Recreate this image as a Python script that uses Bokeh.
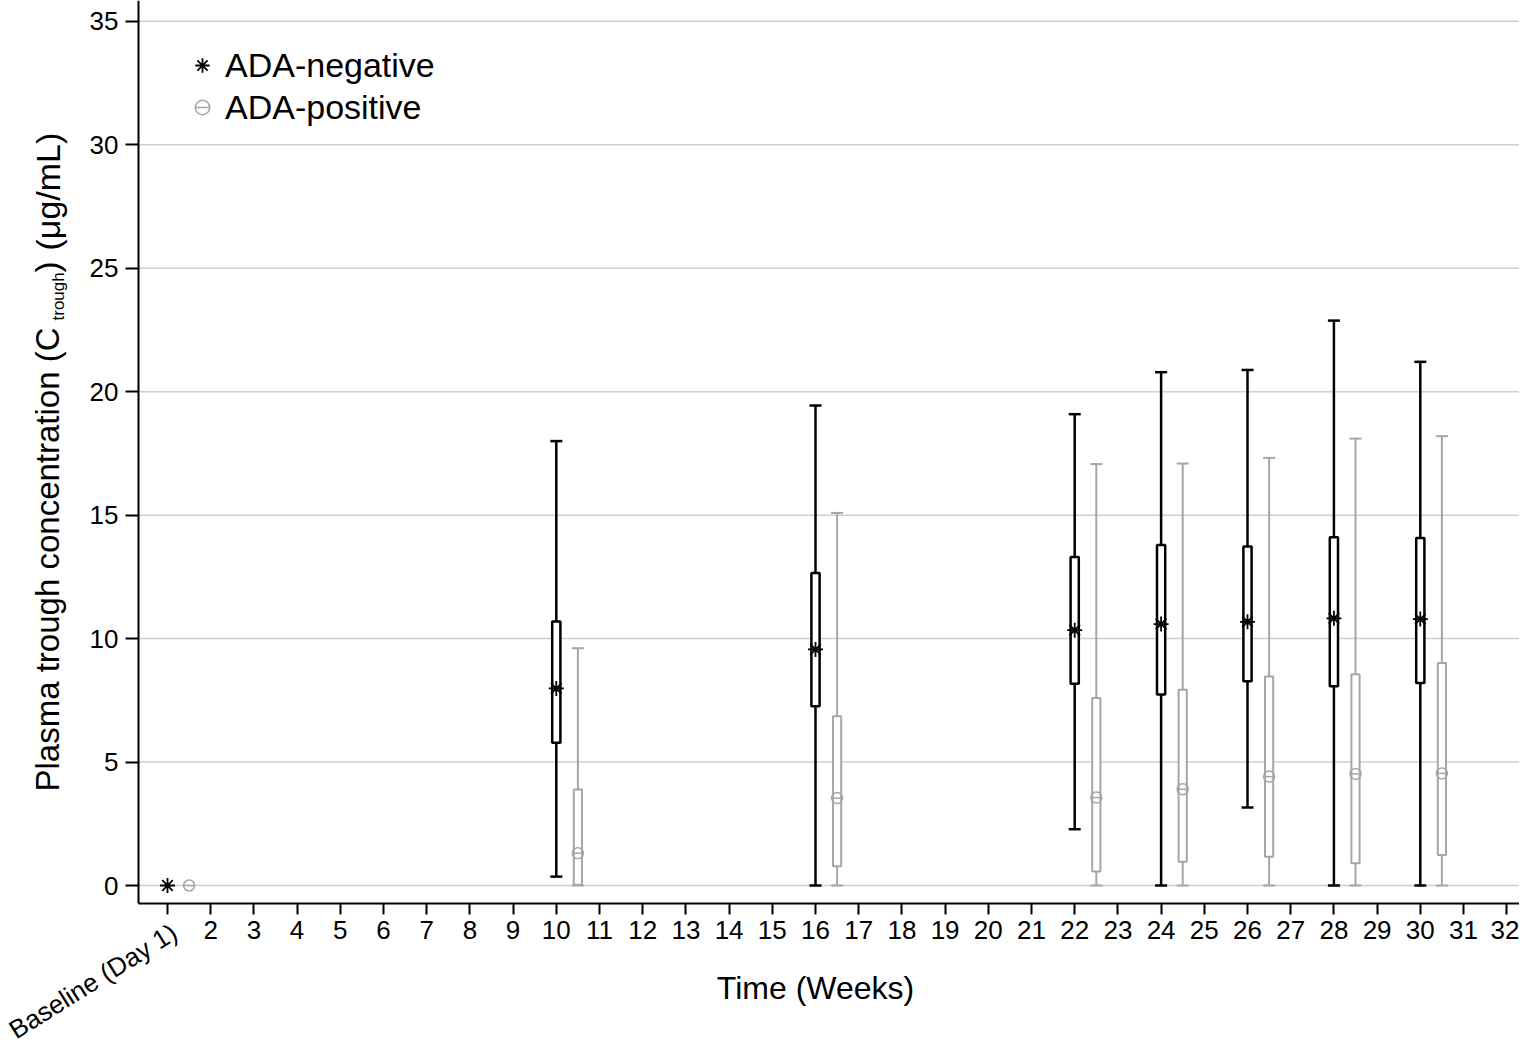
import math
from bokeh.plotting import figure
from bokeh.models import FixedTicker, Label, Legend, LegendItem, Range1d
from bokeh.embed import file_html
from bokeh.resources import INLINE

FONT = "Liberation Sans"
BLACK = "#000000"
GREY = "#a6a6a6"
GRID = "#cfcfcf"

# ---------------- data ----------------
weeks_all = list(range(1, 33))
tick_labels = ["Baseline (Day 1)"] + [str(w) for w in range(2, 33)]
y_ticks = [0, 5, 10, 15, 20, 25, 30, 35]

baseline_week = [1]
baseline_neg = [0.0]
baseline_pos = [0.0]

box_weeks = [10, 16, 22, 24, 26, 28, 30]

neg_low = [0.36, 0.0, 2.28, 0.0, 3.16, 0.0, 0.0]
neg_q1 = [5.78, 7.26, 8.17, 7.74, 8.27, 8.07, 8.20]
neg_median = [7.98, 9.56, 10.34, 10.59, 10.68, 10.82, 10.79]
neg_q3 = [10.69, 12.66, 13.30, 13.79, 13.73, 14.10, 14.07]
neg_high = [18.00, 19.44, 19.09, 20.79, 20.88, 22.88, 21.21]

pos_low = [0.0, 0.0, 0.0, 0.0, 0.0, 0.0, 0.0]
pos_q1 = [0.03, 0.78, 0.57, 0.96, 1.16, 0.90, 1.24]
pos_median = [1.31, 3.54, 3.56, 3.90, 4.41, 4.52, 4.54]
pos_q3 = [3.89, 6.86, 7.59, 7.93, 8.47, 8.56, 9.01]
pos_high = [9.61, 15.09, 17.07, 17.09, 17.32, 18.10, 18.20]

pos_offset = 0.5
box_w = 0.19
cap_half = 0.139

# ---------------- geometry (frame = whole canvas) ----------------
W, H = 1519, 1046
PX_PER_WEEK = 43.2
PX_PER_UNIT = 24.69
WEEK1_PX = 167.0      # canvas x of week 1
ZERO_PX = 885.0       # canvas y of value 0


def dx(px):  # canvas px -> data x
    return 1 + (px - WEEK1_PX) / PX_PER_WEEK


def dy(py):  # canvas px -> data y
    return (ZERO_PX - py) / PX_PER_UNIT


X0, X1 = dx(0), dx(W)
Y0, Y1 = dy(H), dy(0)
AX_X = dx(138)        # y-axis position
AX_Y = dy(903)        # x-axis position

p = figure(width=W, height=H, output_backend="svg", toolbar_location=None,
           x_range=Range1d(X0, X1), y_range=Range1d(Y0, Y1),
           min_border_left=0, min_border_right=0, min_border_top=0,
           min_border_bottom=0)
p.outline_line_color = None
p.background_fill_color = "white"
p.border_fill_color = "white"
p.xgrid.visible = False
p.ygrid.visible = False

# axes pinned at fixed data locations
p.xaxis.fixed_location = AX_Y
p.yaxis.fixed_location = AX_X
p.xaxis.bounds = (AX_X, X1)
p.yaxis.bounds = (AX_Y, Y1)
p.xaxis.ticker = FixedTicker(ticks=weeks_all)
overrides = {w: lab for w, lab in zip(weeks_all, tick_labels)}
overrides[weeks_all[0]] = ""
p.xaxis.major_label_overrides = overrides
p.yaxis.ticker = FixedTicker(ticks=y_ticks)
for ax in (p.xaxis, p.yaxis):
    ax.axis_line_width = 2
    ax.axis_line_color = BLACK
    ax.major_tick_line_width = 2
    ax.major_tick_line_color = BLACK
    ax.major_tick_in = 0
    ax.minor_tick_line_color = None
    ax.major_label_text_font = FONT
    ax.major_label_text_font_size = "26px"
    ax.major_label_text_color = BLACK
p.xaxis.major_tick_out = 11
p.xaxis.major_label_standoff = 6
p.yaxis.major_tick_out = 13
p.yaxis.major_label_standoff = 7

# horizontal grid lines (from the y-axis to the right edge)
p.segment(x0=[AX_X] * len(y_ticks), y0=y_ticks, x1=[X1] * len(y_ticks), y1=y_ticks,
          line_color=GRID, line_width=1.5)

# ---------------- ADA-negative ----------------
LWB = 2.5
p.segment(x0=box_weeks, y0=neg_low, x1=box_weeks, y1=neg_q1, line_color=BLACK, line_width=LWB)
p.segment(x0=box_weeks, y0=neg_q3, x1=box_weeks, y1=neg_high, line_color=BLACK, line_width=LWB)
p.segment(x0=[w - cap_half for w in box_weeks], y0=neg_high,
          x1=[w + cap_half for w in box_weeks], y1=neg_high, line_color=BLACK, line_width=LWB)
p.segment(x0=[w - cap_half for w in box_weeks], y0=neg_low,
          x1=[w + cap_half for w in box_weeks], y1=neg_low, line_color=BLACK, line_width=LWB)
p.vbar(x=box_weeks, width=box_w, bottom=neg_q1, top=neg_q3,
       fill_color="white", line_color=BLACK, line_width=LWB)
star = p.scatter(x=baseline_week + box_weeks, y=baseline_neg + neg_median,
                 marker="asterisk", size=15, line_color=BLACK, line_width=1.8)

# ---------------- ADA-positive ----------------
pos_x = [w + pos_offset for w in box_weeks]
p.segment(x0=pos_x, y0=pos_low, x1=pos_x, y1=pos_q1, line_color=GREY, line_width=2)
p.segment(x0=pos_x, y0=pos_q3, x1=pos_x, y1=pos_high, line_color=GREY, line_width=2)
p.segment(x0=[x - cap_half for x in pos_x], y0=pos_high,
          x1=[x + cap_half for x in pos_x], y1=pos_high, line_color=GREY, line_width=2)
p.segment(x0=[x - cap_half for x in pos_x], y0=pos_low,
          x1=[x + cap_half for x in pos_x], y1=pos_low, line_color=GREY, line_width=2)
p.vbar(x=pos_x, width=box_w, bottom=pos_q1, top=pos_q3,
       fill_color="white", line_color=GREY, line_width=2)
pos_mx = [w + pos_offset for w in baseline_week] + pos_x
pos_my = baseline_pos + pos_median
pcirc = p.scatter(x=pos_mx, y=pos_my, marker="circle", size=11,
                  fill_color=None, line_color=GREY, line_width=1.5)
pdash = p.scatter(x=pos_mx, y=pos_my, marker="dash", size=11,
                  line_color=GREY, line_width=1.5)

# ---------------- legend ----------------
legend = Legend(items=[LegendItem(label="ADA-negative", renderers=[star]),
                       LegendItem(label="ADA-positive", renderers=[pcirc, pdash])],
                location=(184, H - 128), orientation="vertical",
                label_text_font=FONT, label_text_font_size="34px",
                label_text_color=BLACK,
                glyph_width=36, glyph_height=42, label_height=42,
                label_standoff=5, spacing=0, padding=0, margin=0,
                border_line_color=None, background_fill_alpha=0)
p.add_layout(legend)


# ---------------- text labels (placed in data units) ----------------
def lab(text, px, py, size, angle=0.0, align="left", baseline="alphabetic"):
    p.add_layout(Label(x=dx(px), y=dy(py), x_units="data", y_units="data", text=text,
                       angle=angle, text_font=FONT, text_font_size=size,
                       text_color=BLACK, text_align=align, text_baseline=baseline))


# x tick label for baseline (rotated)
lab(tick_labels[0], 166, 917, "26px", angle=math.radians(32), align="right", baseline="top")
# x axis title
lab("Time (Weeks)", 815, 987, "32px", align="center")
# y axis title with subscript
lab("Plasma trough concentration (C", 47, 791, "33px", angle=math.pi / 2)
lab("trough", 58, 320, "17px", angle=math.pi / 2)
lab(")", 47, 272, "33px", angle=math.pi / 2)
lab("(\u03bcg/mL)", 47, 250, "34px", angle=math.pi / 2)

open("out.html", "w").write(file_html(p, INLINE))
